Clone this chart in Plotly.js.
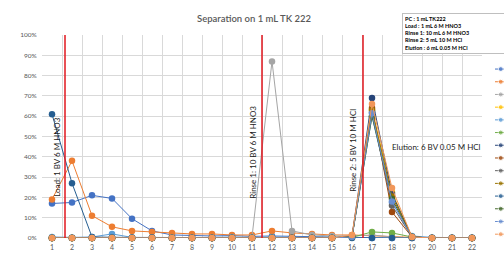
<!DOCTYPE html>
<html>
<head>
<meta charset="utf-8">
<script src="https://cdn.plot.ly/plotly-3.0.1.min.js"></script>
<style>html,body{margin:0;padding:0;background:#fff;}#chart{width:504px;height:253px;}</style>
</head>
<body>
<div id="chart"></div>
<script>
// ---- data ----
var fractions = [1,2,3,4,5,6,7,8,9,10,11,12,13,14,15,16,17,18,19,20,21,22];
var tickLabels = ['1','2','3','4','5','6','7','8','9','10','11','12','13','14','15','16','17','18','19','20','21','22'];

var s1  = [17, 17.5, 21, 19.5, 9.5, 3.5, 1.5, 1.2, 1, 1.2, 0.8, 1, 0.8, 0.6, 0.5, 0.5, 0, 0, 0, 0, 0, 0];
var s2  = [19, 38, 11, 5.5, 3.5, 3, 2.5, 2, 2, 1.5, 1.5, 3.5, 2.5, 2, 1.5, 1.5, 1, 0.5, 0.3, 0, 0, 0];
var s3  = [0, 0, 0, 0, 0, 0, 0, 0, 0, 0, 0.5, 87, 3.5, 1.5, 1, 1, 1.5, 0.5, 0, 0, 0, 0];
var s4  = [0, 0, 0, 0, 0, 0, 0, 0, 0, 0, 0, 0, 0, 0, 0, 0.5, 63, 22.5, 0.5, 0, 0, 0];
var s5  = [0.5, 0.3, 0.5, 2, 0.3, 0.2, 0.2, 0.2, 0.2, 0.5, 0.2, 0.5, 0.2, 0.2, 0.2, 0.5, 60, 17.5, 1, 0.3, 0.2, 0.2];
var s6  = [0, 0, 0, 0, 0, 0, 0, 0, 0, 0, 0, 0, 0, 0, 0, 0.3, 3, 2.5, 0.5, 0, 0, 0];
var s7  = [0, 0, 0, 0, 0, 0, 0, 0, 0, 0, 0, 0, 0, 0, 0, 1, 69, 21.7, 0.5, 0, 0, 0];
var s8  = [0, 0, 0, 0, 0, 0, 0, 0, 0, 0, 0, 0, 0, 0, 0, 0.8, 64, 12.8, 0.5, 0, 0, 0];
var s9  = [0, 0, 0, 0, 0, 0, 0, 0, 0, 0, 0, 0, 0, 0, 0, 0.8, 62, 16, 0.5, 0, 0, 0];
var s10 = [0, 0, 0, 0, 0, 0, 0, 0, 0, 0, 0, 0, 0, 0, 0, 0.5, 63, 20.5, 0.5, 0, 0, 0];
var s11 = [61, 27, 0.5, 0.3, 0.2, 0.2, 0, 0, 0, 0, 0, 0, 0, 0, 0, 0, 0, 0, 0, 0, 0, 0];
var s12 = [0, 0, 0, 0, 0, 0, 0, 0, 0, 0, 0, 0, 0, 0, 0, 0.5, 60, 19.2, 0.5, 0, 0, 0];
var s13 = [0, 0, 0, 0, 0, 0, 0, 0, 0, 0, 0, 0, 0, 0, 0, 0.5, 61.5, 18, 0.5, 0, 0, 0];
var s14 = [0, 0, 0, 0, 0, 0, 0, 0, 0, 0, 0, 0, 0, 0, 0, 1.5, 66, 24.6, 0.5, 0, 0, 0];
var markerShadow = [-1.5,-1.5,-1.5,-1.5,-1.5,-1.5,-1.5,-1.5,-1.5,-1.5,-1.5,-1.5,-1.5,-1.5,-1.5,-1.5,-1.5,-1.5,-1.5,-1.5,-1.5,-1.5];

var seriesList = [s1,s2,s3,s4,s5,s6,s7,s8,s9,s10,s11,s12,s13,s14];
var seriesColors = ['#4472C4','#ED7D31','#A5A5A5','#FFC000','#5B9BD5','#70AD47',
                    '#264478','#9E480E','#636363','#997300','#255E91','#43682B','#698ED0','#F1975A'];

var FONT = 'Lato, "Open Sans", sans-serif';
var traces = [];

// marker shadow row along the baseline
traces.push({
  x: fractions, y: markerShadow, type: 'scatter', mode: 'markers',
  marker: {color: 'rgba(10,10,10,0.9)', size: 9},
  cliponaxis: false, showlegend: false, hoverinfo: 'skip'
});

seriesList.forEach(function (vals, i) {
  traces.push({
    x: fractions, y: vals, type: 'scatter', mode: 'lines+markers',
    line: {color: seriesColors[i], width: 1},
    marker: {color: seriesColors[i], size: 6.5},
    cliponaxis: false, showlegend: false, name: 'Series ' + (i + 1)
  });
});

// legend swatches (cut off at the right edge, as in the reference)
seriesList.forEach(function (vals, i) {
  traces.push({
    x: [0, 0.64, 1.5], y: [-i, -i, -i], xaxis: 'x2', yaxis: 'y2',
    type: 'scatter', mode: 'lines+markers',
    line: {color: seriesColors[i], width: 1},
    marker: {color: seriesColors[i], size: [0, 5, 0]},
    cliponaxis: false, showlegend: false, hoverinfo: 'skip'
  });
});

var W = 504, H = 253, L = 42, R = 0, T = 35, B = 15;
var paperW = W - L - R;
var plotRight = 482;

var layout = {
  width: W, height: H,
  margin: {l: L, r: R, t: T, b: B, pad: 0},
  paper_bgcolor: '#fff', plot_bgcolor: '#fff',
  font: {family: FONT, color: '#595959'},
  showlegend: false,
  title: {
    text: 'Separation on 1 mL TK 222',
    x: 254 / W, xref: 'container', xanchor: 'center',
    y: 1 - 19 / H, yref: 'container', yanchor: 'middle',
    font: {family: FONT, size: 9.5, color: '#595959', weight: 600}
  },
  xaxis: {
    domain: [0, (plotRight - L) / paperW],
    range: [0.5, 22.5],
    tickmode: 'array', tickvals: fractions, ticktext: tickLabels,
    showgrid: false, zeroline: false, showline: false,
    ticks: 'outside', ticklen: 3, tickcolor: 'rgba(0,0,0,0)',
    tickfont: {family: FONT, size: 7, color: '#595959'},
    minor: {tick0: 0.5, dtick: 1, showgrid: true, gridcolor: '#D9D9D9', gridwidth: 1, ticks: ''}
  },
  yaxis: {
    range: [0, 100], dtick: 10, ticksuffix: '%',
    showgrid: true, gridcolor: '#D9D9D9', gridwidth: 1,
    zeroline: false, showline: false,
    ticks: 'outside', ticklen: 3, tickcolor: 'rgba(0,0,0,0)',
    tickfont: {family: FONT, size: 6.5, color: '#595959'}
  },
  xaxis2: {
    domain: [(495 - L) / paperW, 1], range: [0, 1], anchor: 'y2',
    visible: false, fixedrange: true
  },
  yaxis2: {
    domain: [0, 1], range: [-13.3, 2.68], anchor: 'x2',
    visible: false, fixedrange: true
  },
  shapes: [1.65, 11.5, 16.55].map(function (xv) {
    return {type: 'line', xref: 'x', yref: 'y', x0: xv, x1: xv, y0: 0, y1: 100,
            line: {color: '#E0161E', width: 1.5}};
  }),
  annotations: [
    {x: 1.25, y: 40, xref: 'x', yref: 'y', text: 'Load: 1 BV 6 M HNO3', textangle: -90,
     showarrow: false, font: {family: FONT, size: 8, color: '#1a1a1a'}},
    {x: 11.05, y: 42, xref: 'x', yref: 'y', text: 'Rinse 1: 10 BV 6 M HNO3', textangle: -90,
     showarrow: false, font: {family: FONT, size: 8, color: '#1a1a1a'}},
    {x: 16.05, y: 43, xref: 'x', yref: 'y', text: 'Rinse 2: 5 BV 10 M HCl', textangle: -90,
     showarrow: false, font: {family: FONT, size: 8, color: '#1a1a1a'}},
    {x: 20.2, y: 45, xref: 'x', yref: 'y', text: 'Elution: 6 BV 0.05 M HCl',
     showarrow: false, font: {family: FONT, size: 8, color: '#1a1a1a'}},
    {x: (402 - L) / paperW, y: (H - B - 13) / (H - T - B), xref: 'paper', yref: 'paper',
     xanchor: 'left', yanchor: 'top', align: 'left', width: 112,
     text: '<b>PC : 1 mL TK222<br>Load : 1 mL 6 M HNO3<br>Rinse 1: 10 mL 6 M HNO3<br>Rinse 2: 5 mL 10 M HCl<br>Elution : 6 mL 0.05 M HCl</b>',
     showarrow: false, bgcolor: '#fff', bordercolor: '#BFBFBF', borderwidth: 1, borderpad: 2,
     font: {family: FONT, size: 5.5, color: '#000'}}
  ]
};

Plotly.newPlot('chart', traces, layout, {staticPlot: true, displayModeBar: false});
</script>
</body>
</html>
